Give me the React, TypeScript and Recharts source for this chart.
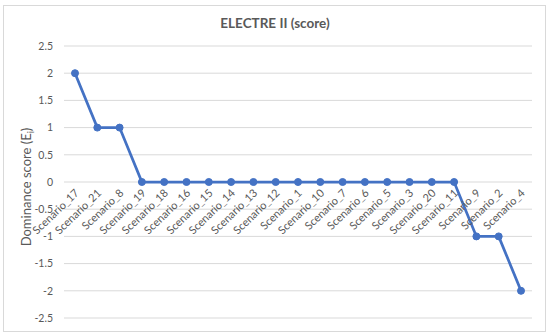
import React from "react";
import { LineChart, Line, XAxis, YAxis, CartesianGrid } from "recharts";

const scenarios = [
  "Scenario_17", "Scenario_21", "Scenario_8", "Scenario_19", "Scenario_18", "Scenario_16",
  "Scenario_15", "Scenario_14", "Scenario_13", "Scenario_12", "Scenario_1", "Scenario_10",
  "Scenario_7", "Scenario_6", "Scenario_5", "Scenario_3", "Scenario_20", "Scenario_11",
  "Scenario_9", "Scenario_2", "Scenario_4",
];
const scores = [2, 1, 1, 0, 0, 0, 0, 0, 0, 0, 0, 0, 0, 0, 0, 0, 0, 0, -1, -1, -2];
const yTicks = [-2.5, -2, -1.5, -1, -0.5, 0, 0.5, 1, 1.5, 2, 2.5];

const data = scenarios.map((name, i) => ({ name, score: scores[i] }));

const W = 550;
const H = 336;
const M_TOP = 46;
const M_BOTTOM = 17;
const X_H = 1;
const PLOT_H = H - M_TOP - M_BOTTOM - X_H;
const Y0 = M_TOP + PLOT_H / 2;
const FONT = "Lato, 'Open Sans', sans-serif";

const XTick = (props: any) => {
  const { x, payload } = props;
  const ax = x + 2;
  const ay = Y0 + 9;
  return (
    <g transform={`translate(${ax}, ${ay})`}>
      <text
        x={0}
        y={0}
        textAnchor="end"
        dy="0.35em"
        fontSize={11}
        fill="#595959"
        fontFamily={FONT}
        transform="rotate(-44)"
      >
        {payload.value}
      </text>
    </g>
  );
};

export default function App() {
  return (
    <div style={{ position: "absolute", left: 0, top: 0, width: W, height: H, background: "#fff" }}>
      <div
        style={{
          position: "absolute",
          left: 3,
          top: 5,
          width: 541,
          height: 325,
          border: "1px solid #d9d9d9",
        }}
      />
      <div
        style={{
          position: "absolute",
          left: 0,
          top: 15,
          width: W,
          textAlign: "center",
          fontFamily: FONT,
          fontWeight: 700,
          fontSize: 13.5,
          color: "#595959",
        }}
      >
        ELECTRE II (score)
      </div>
      <div
        style={{
          position: "absolute",
          left: 27,
          top: 187,
          transform: "translate(-50%, -50%) rotate(-90deg)",
          whiteSpace: "nowrap",
          fontFamily: FONT,
          fontSize: 13,
          color: "#595959",
        }}
      >
        Dominance score (E<sub style={{ fontSize: 9 }}>i</sub>)
      </div>
      <div style={{ position: "absolute", left: 0, top: 0 }}>
        <LineChart
          width={W}
          height={H}
          data={data}
          margin={{ top: M_TOP, right: 18, bottom: M_BOTTOM, left: 24 }}
        >
          <CartesianGrid vertical={false} stroke="#d9d9d9" strokeWidth={1} />
          <XAxis
            dataKey="name"
            axisLine={false}
            tickLine={false}
            height={X_H}
            interval={0}
            padding={{ left: 11, right: 11 }}
            tick={<XTick />}
          />
          <YAxis
            width={40}
            domain={[-2.5, 2.5]}
            ticks={yTicks}
            axisLine={false}
            tickLine={false}
            tickMargin={5}
            tick={{ fontSize: 10.5, fill: "#595959", fontFamily: FONT }}
          />
          <Line
            type="linear"
            dataKey="score"
            stroke="#4472C4"
            strokeWidth={2.75}
            dot={{ r: 3.5, fill: "#4472C4", stroke: "#4472C4", strokeWidth: 1 }}
            isAnimationActive={false}
          />
        </LineChart>
      </div>
    </div>
  );
}
